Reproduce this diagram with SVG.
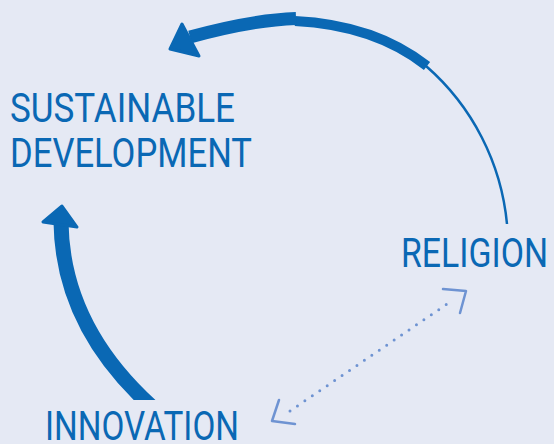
<svg xmlns="http://www.w3.org/2000/svg" width="554" height="444" viewBox="0 0 554 444">
  <defs>
    <style>
      .lbl { font-family: Roboto, "Liberation Sans", sans-serif; font-size: 40px; font-weight: 400; fill: #0A68B4; }
      .blue { fill: none; stroke: #0A68B4; }
      .head { fill: #0A68B4; stroke: #0A68B4; stroke-width: 3; stroke-linejoin: round; }
      .dot { fill: none; stroke: #6E93D2; }
    </style>
    <clipPath id="clipLeft">
      <rect x="0" y="0" width="554" height="400"/>
    </clipPath>
  </defs>
  <rect width="554" height="444" fill="#E5E9F4"/>

  <g id="connectors">
    <!-- Religion to Sustainable Development -->
    <g id="arrow-religion-sd">
      <path class="blue" stroke-width="2.5" d="M426,66 A239,239 0 0 1 507,224"/>
      <path class="blue" stroke-width="10" d="M295,21 Q375,25 427,66"/>
      <path class="blue" stroke-width="13" d="M296,18.5 Q252,20 190,37"/>
      <polygon class="head" points="170,49 182,24 199,56"/>
    </g>
    <!-- Innovation to Sustainable Development -->
    <g id="arrow-innovation-sd">
      <path class="blue" stroke-width="15" clip-path="url(#clipLeft)" d="M152,407 C100,360 62,300 61,222"/>
      <polygon class="head" points="62,206 43,222 77,227"/>
    </g>
    <!-- Innovation <-> Religion -->
    <g id="arrow-innovation-religion">
      <path class="dot" stroke-width="3" stroke-linecap="round" stroke-dasharray="0 9" d="M290,411 L450,302"/>
      <polyline class="dot" stroke-width="2.5" stroke-linecap="round" stroke-linejoin="round" points="443,289 466,291 460,313"/>
      <polyline class="dot" stroke-width="2.5" stroke-linecap="round" stroke-linejoin="round" points="279,400 272,421 295,424"/>
    </g>
  </g>

  <g id="node-sustainable-development">
    <text class="lbl" x="10" y="121.5" textLength="225" lengthAdjust="spacingAndGlyphs">SUSTAINABLE</text>
    <text class="lbl" x="10" y="166.5" textLength="242" lengthAdjust="spacingAndGlyphs">DEVELOPMENT</text>
  </g>
  <g id="node-religion">
    <text class="lbl" x="401" y="266.5" textLength="147" lengthAdjust="spacingAndGlyphs">RELIGION</text>
  </g>
  <g id="node-innovation">
    <text class="lbl" x="45" y="440" textLength="194" lengthAdjust="spacingAndGlyphs">INNOVATION</text>
  </g>
</svg>
